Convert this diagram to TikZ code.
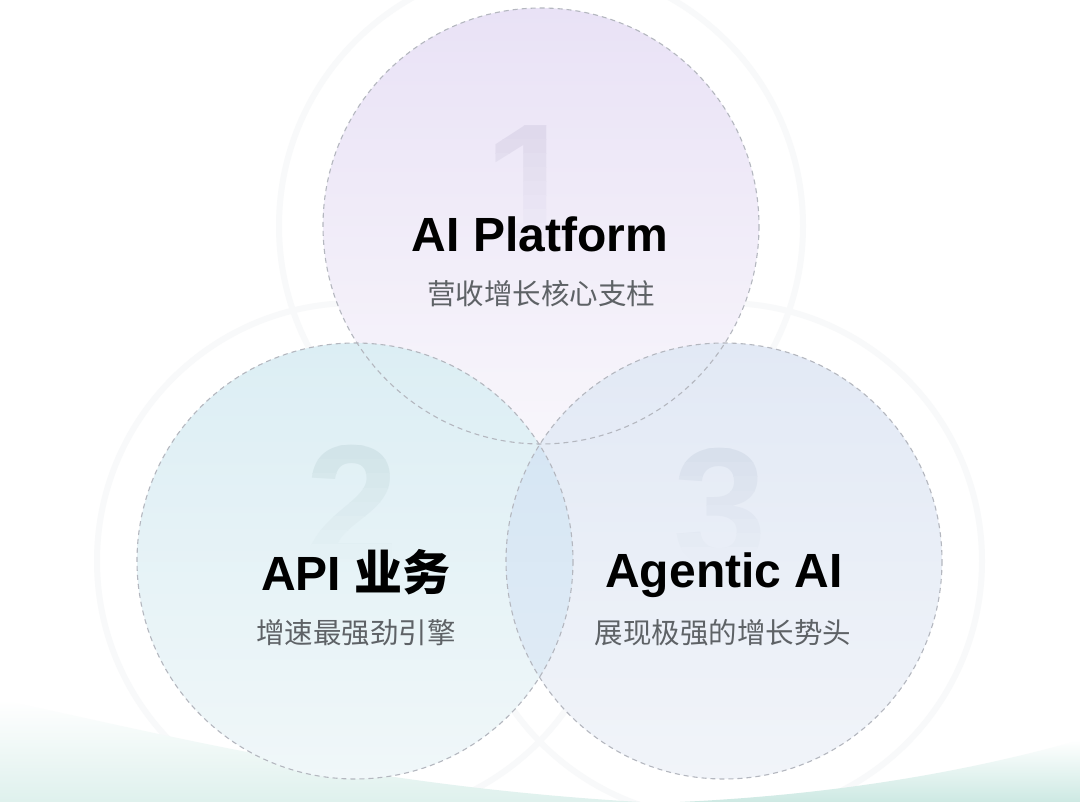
\documentclass[tikz,border=0pt]{standalone}
\usepackage{fontspec}
\setmainfont{Liberation Sans}
\newfontfamily\cjk{Noto Sans CJK SC}
\newfontfamily\cjkb{Noto Sans CJK SC Bold}
\usetikzlibrary{shadings}
\definecolor{cOnetop}{HTML}{E9E2F6}
\definecolor{cOnebot}{HTML}{F8F6FB}
\definecolor{cTwotop}{HTML}{DCEEF4}
\definecolor{cTwobot}{HTML}{F0F7F9}
\definecolor{cThrtop}{HTML}{E2E9F5}
\definecolor{cThrbot}{HTML}{F1F4F9}
\definecolor{lenstop}{HTML}{D2E4F3}
\definecolor{lensbot}{HTML}{E3EDF6}
\definecolor{dashgray}{HTML}{B4B7BF}
\definecolor{subgray}{HTML}{5E6266}
\definecolor{tealbg}{HTML}{CDE9E3}
\definecolor{haloc}{HTML}{F8F9FA}
\definecolor{numone}{HTML}{DDD7EA}
\definecolor{numtwo}{HTML}{CFE2E7}
\definecolor{numthr}{HTML}{D6DEEB}
\colorlet{bgone}{cOnetop!55!cOnebot}
\colorlet{bgtwo}{cTwotop!45!cTwobot}
\colorlet{bgthr}{cThrtop!45!cThrbot}
\tikzset{
  ring/.style={draw=dashgray, line width=1.1pt, dash pattern=on 5pt off 4pt},
  halo/.style={draw=haloc, line width=6pt},
  titletext/.style={anchor=base, font=\fontsize{48}{58}\selectfont\bfseries, text=black, inner sep=0pt},
  subtext/.style={anchor=base, font=\cjk\fontsize{28.5}{34}\selectfont, text=subgray, inner sep=0pt},
  numtext/.style={anchor=base, font=\fontsize{168}{200}\selectfont\bfseries, inner sep=0pt}
}
\begin{document}
\begin{tikzpicture}[x=1pt,y=-1pt]
\useasboundingbox (0,0) rectangle (1080,802);
\fill[white] (0,0) rectangle (1080,802);
% halos
\draw[halo] (541,226) circle[radius=262];
\draw[halo] (355,561) circle[radius=258];
\draw[halo] (724,561) circle[radius=258];
% bottom teal tints
\shade[top color=white, bottom color=tealbg!65] (0,700) .. controls (150,730) and (350,785) .. (640,802) -- (0,802) -- cycle;
\shade[top color=white, bottom color=tealbg] (680,802) .. controls (850,794) and (980,768) .. (1080,740) -- (1080,802) -- cycle;
% circle fills
\shade[top color=cOnetop, bottom color=cOnebot] (541,226) circle[radius=218];
\shade[top color=cTwotop, bottom color=cTwobot] (355,561) circle[radius=218];
\shade[top color=cThrtop, bottom color=cThrbot] (724,561) circle[radius=218];
\begin{scope}
  \clip (355,561) circle[radius=218];
  \shade[top color=lenstop, bottom color=lensbot] (724,561) circle[radius=218];
\end{scope}
% watermark numbers, fading downwards (drawn in bands)
\foreach \i [evaluate=\i as \p using {100-\i*11}] in {0,...,8}{
  \begin{scope}
    \clip (460,{112+\i*14}) rectangle (610,{126+\i*14});
    \node[numtext, text=numone!\p!bgone] (n1-\i) at (531,242) {1};
  \end{scope}
  \begin{scope}
    \clip (280,{432+\i*14}) rectangle (430,{446+\i*14});
    \node[numtext, text=numtwo!\p!bgtwo] (n2-\i) at (352,562) {2};
  \end{scope}
  \begin{scope}
    \clip (650,{435+\i*14}) rectangle (800,{449+\i*14});
    \node[numtext, text=numthr!\p!bgthr] (n3-\i) at (720,565) {3};
  \end{scope}
}
% dashed outlines
\draw[ring] (541,226) circle[radius=218];
\draw[ring] (355,561) circle[radius=218];
\draw[ring] (724,561) circle[radius=218];
% titles
\node[titletext] (t1) at (540,252) {AI Platform};
\node[titletext] (t2) at (356,590) {API \cjkb 业务};
\node[titletext] (t3) at (724,587) {Agentic AI};
% subtitles
\node[subtext] (s1) at (541,305) {营收增长核心支柱};
\node[subtext] (s2) at (356,643) {增速最强劲引擎};
\node[subtext] (s3) at (723,643) {展现极强的增长势头};
\end{tikzpicture}
\end{document}
